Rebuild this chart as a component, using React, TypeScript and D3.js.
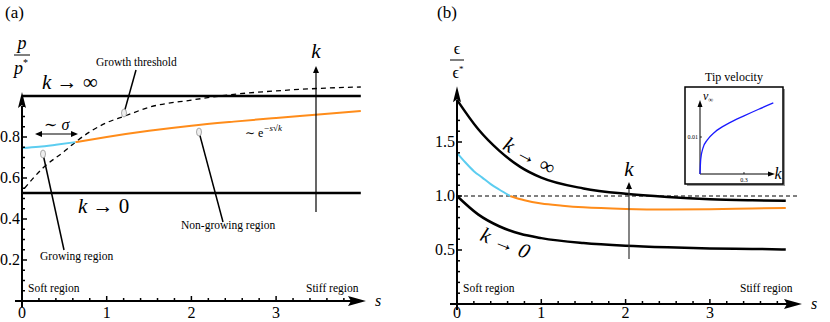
import { scaleLinear, line, curveMonotoneX, range } from "d3";

const width = 830;
const height = 322;
const font = "'Liberation Serif', 'Times New Roman', 'DejaVu Serif', serif";

// panel (a): p / p*
const blueAS = [0, 0.2, 0.4, 0.63];
const blueAP = [0.746, 0.752, 0.762, 0.775];
const orangeAS = [0.63, 1, 1.5, 2, 2.5, 3, 3.5, 4];
const orangeAP = [0.775, 0.8, 0.83, 0.855, 0.875, 0.893, 0.91, 0.927];
const threshS = [0.03, 0.25, 0.5, 0.63, 1, 1.2, 1.5, 2, 2.5, 3, 3.5, 4];
const threshP = [0.55, 0.65, 0.73, 0.775, 0.87, 0.9, 0.945, 0.98, 1.008, 1.025, 1.037, 1.044];
const kInfA = 1.0;
const kZeroA = 0.527;
const yTicksA = [0.2, 0.4, 0.6, 0.8];
const xTicks = [0, 1, 2, 3];

// panel (b): epsilon / epsilon*
const kInfBS = [0, 0.25, 0.5, 0.75, 1, 1.5, 2, 2.5, 3, 3.5, 3.9];
const kInfBE = [1.89, 1.62, 1.42, 1.27, 1.17, 1.07, 1.02, 0.99, 0.97, 0.96, 0.955];
const blueBS = [0, 0.1, 0.2, 0.3, 0.4, 0.5, 0.63];
const blueBE = [1.4, 1.31, 1.23, 1.17, 1.11, 1.06, 1.0];
const orangeBS = [0.63, 0.8, 1, 1.25, 1.5, 2, 2.5, 3, 3.5, 3.9];
const orangeBE = [1.0, 0.96, 0.93, 0.91, 0.895, 0.88, 0.875, 0.878, 0.885, 0.89];
const kZeroBS = [0, 0.25, 0.5, 0.75, 1, 1.5, 2, 2.5, 3, 3.5, 3.9];
const kZeroBE = [1.0, 0.83, 0.72, 0.65, 0.61, 0.565, 0.54, 0.525, 0.515, 0.51, 0.505];
const yTicksB = [0.5, 1.0, 1.5];

// inset: tip velocity
const tipK = [0, 0.005, 0.02, 0.05, 0.1, 0.2, 0.3, 0.4, 0.5];
const tipV = [0, 0.004, 0.007, 0.0092, 0.0113, 0.0138, 0.0157, 0.0175, 0.0192];

const zip = (a: number[], b: number[]) => a.map((v, i) => [v, b[i]] as [number, number]);

function Axes({ x, y, yMax, yMinor, yTicks, yFmt, xEnd }: any) {
  const x0 = x(0);
  const y0 = y(0);
  const yTop = y(yMax);
  return (
    <g>
      <line x1={x0 - 7} x2={xEnd - 12} y1={y0} y2={y0} stroke="#000" strokeWidth={2} />
      <path d={`M${xEnd},${y0} L${xEnd - 18},${y0 - 5} L${xEnd - 15},${y0} L${xEnd - 18},${y0 + 5} Z`} fill="#000" />
      <line x1={x0} x2={x0} y1={y0 + 6} y2={yTop + 10} stroke="#000" strokeWidth={2} />
      <path d={`M${x0},${yTop - 4} L${x0 - 4},${yTop + 12} L${x0},${yTop + 9} L${x0 + 4},${yTop + 12} Z`} fill="#000" />
      {range(0.2, 4, 0.2).map((v: number, i: number) => (
        <line key={i} x1={x(v)} x2={x(v)} y1={y0} y2={y0 - (Math.abs(v - Math.round(v)) < 0.01 ? 5 : 3)} stroke="#000" strokeWidth={1.5} />
      ))}
      {yMinor.map((v: number, i: number) => (
        <line key={i} x1={x0} x2={x0 + 3} y1={y(v)} y2={y(v)} stroke="#000" strokeWidth={1.5} />
      ))}
      {yTicks.map((v: number, i: number) => (
        <g key={i}>
          <line x1={x0} x2={x0 + 5} y1={y(v)} y2={y(v)} stroke="#000" strokeWidth={1.5} />
          <text x={x0 - 2} y={y(v) + 5} textAnchor="end" fontSize={16}>{yFmt(v)}</text>
        </g>
      ))}
      {xTicks.map((v) => (
        <text key={v} x={x(v)} y={Math.min(y0 + 17, 318)} textAnchor="middle" fontSize={16}>{v}</text>
      ))}
      <text x={xEnd + 12} y={y0 + 5} textAnchor="middle" fontSize={16} fontStyle="italic">s</text>
    </g>
  );
}

function Pointer({ x1, y1, x2, y2 }: any) {
  return (
    <g>
      <line x1={x1} y1={y1} x2={x2} y2={y2} stroke="#000" strokeWidth={1.5} />
      <ellipse cx={x2} cy={y2} rx={2.5} ry={4} fill="#eee" stroke="#888" strokeWidth={0.7} />
    </g>
  );
}

function App() {
  const xA = scaleLinear().domain([0, 4]).range([22, 360.8]);
  const yA = scaleLinear().domain([0, 1]).range([301, 96]);
  const xB = scaleLinear().domain([0, 4]).range([457, 794.2]);
  const yB = scaleLinear().domain([0, 1.5]).range([304, 142]);
  const xI = scaleLinear().domain([0, 0.5]).range([700, 773.3]);
  const yI = scaleLinear().domain([0, 0.02]).range([174, 100]);

  const lineA = line<[number, number]>().x((d) => xA(d[0])).y((d) => yA(d[1])).curve(curveMonotoneX);
  const lineB = line<[number, number]>().x((d) => xB(d[0])).y((d) => yB(d[1])).curve(curveMonotoneX);
  const lineI = line<[number, number]>().x((d) => xI(d[0])).y((d) => yI(d[1])).curve(curveMonotoneX);

  const yMinorA = range(0.05, 0.97, 0.05).filter((v: number) => Math.abs(v * 5 - Math.round(v * 5)) > 0.01);
  const yMinorB = range(0.1, 1.75, 0.1).filter((v: number) => Math.abs(v * 2 - Math.round(v * 2)) > 0.01);

  return (
    <svg width={width} height={height} style={{ position: "absolute", left: 0, top: 0, fontFamily: font }}>
      <rect width={width} height={height} fill="#fff" />

      {/* ---------- (a) ---------- */}
      <text x={5} y={18} fontSize={17}>(a)</text>
      <text x={22} y={49} textAnchor="middle" fontSize={18} fontStyle="italic">p</text>
      <line x1={14} x2={30} y1={55} y2={55} stroke="#000" strokeWidth={1} />
      <text x={21} y={74} textAnchor="middle" fontSize={18} fontStyle="italic">p<tspan fontSize={10} dy={-8} fontStyle="normal">*</tspan></text>

      <line x1={xA(0)} x2={xA(4)} y1={yA(kInfA)} y2={yA(kInfA)} stroke="#000" strokeWidth={2.5} />
      <line x1={xA(0)} x2={xA(4)} y1={yA(kZeroA)} y2={yA(kZeroA)} stroke="#000" strokeWidth={2.5} />
      <path d={lineA(zip(threshS, threshP)) ?? ""} fill="none" stroke="#000" strokeWidth={1.3} strokeDasharray="5,4" />
      <path d={lineA(zip(orangeAS, orangeAP)) ?? ""} fill="none" stroke="#ff8c1a" strokeWidth={2} />
      <path d={lineA(zip(blueAS, blueAP)) ?? ""} fill="none" stroke="#5ccdf0" strokeWidth={2} />

      <Axes x={xA} y={yA} yMax={1.0} yMinor={yMinorA} yTicks={yTicksA} yFmt={(v: number) => v.toFixed(1)} xEnd={366} />

      <text x={42} y={89} fontSize={21}><tspan fontStyle="italic">k</tspan> → ∞</text>
      <text x={78} y={213} fontSize={21}><tspan fontStyle="italic">k</tspan> → 0</text>

      <line x1={38} x2={75} y1={134} y2={134} stroke="#000" strokeWidth={1.2} />
      <path d="M35,134 L42,131 L42,137 Z" fill="#000" />
      <path d="M78,134 L71,131 L71,137 Z" fill="#000" />
      <text x={44} y={130} fontSize={16}>∼ <tspan fontStyle="italic">σ</tspan></text>

      <text x={96} y={66} fontSize={11.5}>Growth threshold</text>
      <Pointer x1={136} y1={70} x2={124} y2={113} />
      <text x={40} y={260} fontSize={11.5}>Growing region</text>
      <Pointer x1={64} y1={250} x2={43} y2={154} />
      <text x={181} y={229} fontSize={11.5}>Non-growing region</text>
      <Pointer x1={223} y1={222} x2={199} y2={132} />
      <text x={245} y={137} fontSize={12}>∼ e<tspan dy={-6} fontSize={9} fontStyle="italic">−s√k</tspan></text>

      <line x1={316} x2={316} y1={212} y2={72} stroke="#000" strokeWidth={1.2} />
      <path d="M316,66 L313,73 L319,73 Z" fill="#000" />
      <text x={316} y={58} textAnchor="middle" fontSize={21} fontStyle="italic">k</text>

      <text x={28} y={292} fontSize={11.5}>Soft region</text>
      <text x={306} y={292} fontSize={11.5}>Stiff region</text>

      {/* ---------- (b) ---------- */}
      <text x={437} y={18} fontSize={17}>(b)</text>
      <text x={457} y={54} textAnchor="middle" fontSize={16}>ϵ</text>
      <line x1={450} x2={464} y1={60} y2={60} stroke="#000" strokeWidth={1} />
      <text x={458} y={78} textAnchor="middle" fontSize={16}>ϵ<tspan fontSize={9} dy={-6}>*</tspan></text>

      <line x1={xB(0)} x2={800} y1={yB(1)} y2={yB(1)} stroke="#000" strokeWidth={1} strokeDasharray="4,3" />
      <path d={lineB(zip(kInfBS, kInfBE)) ?? ""} fill="none" stroke="#000" strokeWidth={2.5} />
      <path d={lineB(zip(kZeroBS, kZeroBE)) ?? ""} fill="none" stroke="#000" strokeWidth={2.5} />
      <path d={lineB(zip(orangeBS, orangeBE)) ?? ""} fill="none" stroke="#ff8c1a" strokeWidth={2} />
      <path d={lineB(zip(blueBS, blueBE)) ?? ""} fill="none" stroke="#5ccdf0" strokeWidth={2} />

      <Axes x={xB} y={yB} yMax={1.98} yMinor={yMinorB} yTicks={yTicksB} yFmt={(v: number) => v.toFixed(1)} xEnd={802} />

      <text x={529} y={163} textAnchor="middle" fontSize={21} transform="rotate(29,529,157)"><tspan fontStyle="italic">k</tspan> → ∞</text>
      <text x={505} y={250} textAnchor="middle" fontSize={21} transform="rotate(22,505,244)"><tspan fontStyle="italic">k</tspan> → <tspan fontStyle="italic">0</tspan></text>

      <line x1={629} x2={629} y1={259} y2={188} stroke="#333" strokeWidth={1.2} />
      <path d="M629,182 L626,189 L632,189 Z" fill="#000" />
      <text x={629} y={176} textAnchor="middle" fontSize={21} fontStyle="italic">k</text>

      <text x={463} y={292} fontSize={11.5}>Soft region</text>
      <text x={740} y={292} fontSize={11.5}>Stiff region</text>

      {/* inset */}
      <text x={734} y={81} textAnchor="middle" fontSize={12}>Tip velocity</text>
      <rect x={687} y={89} width={98} height={97} fill="#999" />
      <rect x={685} y={87} width={98} height={97} fill="#fff" stroke="#000" strokeWidth={1.5} />
      <line x1={xI(0)} x2={771} y1={yI(0)} y2={yI(0)} stroke="#000" strokeWidth={1} />
      <path d="M775,174 L768,171.5 L768,176.5 Z" fill="#000" />
      <line x1={xI(0)} x2={xI(0)} y1={yI(0)} y2={104} stroke="#000" strokeWidth={1} />
      <path d="M700,100 L697.5,107 L702.5,107 Z" fill="#000" />
      <line x1={xI(0)} x2={xI(0) + 2} y1={yI(0.01)} y2={yI(0.01)} stroke="#000" strokeWidth={0.8} />
      <text x={xI(0) - 2} y={yI(0.01) + 2} textAnchor="end" fontSize={6}>0.01</text>
      <line x1={xI(0.3)} x2={xI(0.3)} y1={yI(0)} y2={yI(0) - 2} stroke="#000" strokeWidth={0.8} />
      <text x={xI(0.3)} y={yI(0) + 8} textAnchor="middle" fontSize={6}>0.3</text>
      <text x={778} y={179} textAnchor="middle" fontSize={16} fontStyle="italic">k</text>
      <text x={703} y={100} fontSize={12} fontStyle="italic">v<tspan fontSize={7} dy={2} fontStyle="normal">∞</tspan></text>
      <path d={lineI(zip(tipK, tipV)) ?? ""} fill="none" stroke="#1a1aff" strokeWidth={1.3} />
    </svg>
  );
}

export default App;
